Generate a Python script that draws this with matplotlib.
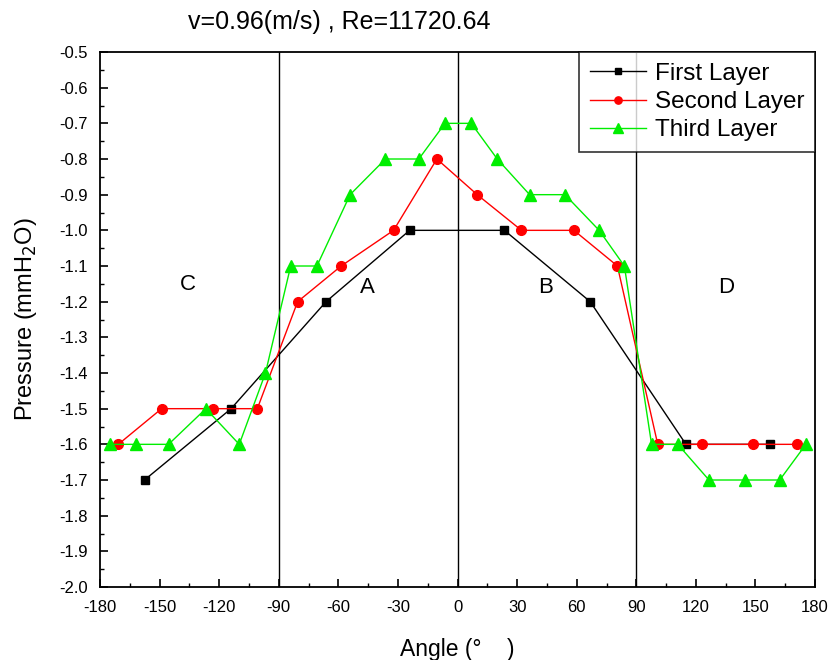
import matplotlib
matplotlib.use("Agg")
import matplotlib.pyplot as plt
from matplotlib.ticker import MultipleLocator, FormatStrFormatter

plt.rcParams['font.family'] = ['Liberation Sans', 'DejaVu Sans']
plt.rcParams['axes.unicode_minus'] = False

first_x = [-157.6, -114.0, -66.2, -24.1, 23.6, 66.8, 115.0, 157.1]
first_y = [-1.7, -1.5, -1.2, -1.0, -1.0, -1.2, -1.6, -1.6]

second_x = [-170.8, -149.0, -123.1, -100.8, -80.5, -58.6, -32.2, -10.4,
            9.9, 32.2, 58.6, 80.5, 100.8, 123.1, 149.0, 170.8]
second_y = [-1.6, -1.5, -1.5, -1.5, -1.2, -1.1, -1.0, -0.8,
            -0.9, -1.0, -1.0, -1.1, -1.6, -1.6, -1.6, -1.6]

third_x = [-174.9, -161.7, -145.5, -126.7, -109.9, -96.7, -84.0, -70.8,
           -54.1, -36.3, -19.5, -6.3, 6.9, 20.0, 36.3, 54.1,
           71.3, 84.0, 97.7, 110.9, 126.6, 144.9, 162.2, 175.4]
third_y = [-1.6, -1.6, -1.6, -1.5, -1.6, -1.4, -1.1, -1.1,
           -0.9, -0.8, -0.8, -0.7, -0.7, -0.8, -0.9, -0.9,
           -1.0, -1.1, -1.6, -1.6, -1.7, -1.7, -1.7, -1.6]

region_labels = ['C', 'A', 'B', 'D']
region_x = [-135.6, -45.4, 44.4, 135.3]
region_y = [-1.153, -1.16, -1.16, -1.16]
divider_x = [-90, 0, 90]

fig = plt.figure(figsize=(8.3, 6.6), dpi=100)
ax = fig.add_axes([0.1205, 0.1106, 0.8615, 0.8106])

for xv in divider_x:
    ax.axvline(xv, color='black', lw=1.0, zorder=1)

ax.plot(first_x, first_y, color='black', lw=1.0, marker='s', markersize=6,
        label='First Layer', zorder=3)
ax.plot(second_x, second_y, color='red', lw=1.0, marker='o', markersize=7,
        label='Second Layer', zorder=3)
ax.plot(third_x, third_y, color='#00ee00', lw=1.0, marker='^', markersize=9,
        label='Third Layer', zorder=3)

for t, xv, yv in zip(region_labels, region_x, region_y):
    ax.text(xv, yv, t, fontsize=16, ha='center', va='center')

ax.set_xlim(-180, 180)
ax.set_ylim(-2.0, -0.5)
ax.xaxis.set_major_locator(MultipleLocator(30))
ax.xaxis.set_minor_locator(MultipleLocator(15))
ax.yaxis.set_major_locator(MultipleLocator(0.1))
ax.yaxis.set_minor_locator(MultipleLocator(0.05))
ax.yaxis.set_major_formatter(FormatStrFormatter('%.1f'))
ax.tick_params(which='both', direction='in', labelsize=12)
ax.tick_params(axis='x', which='major', pad=9)
ax.tick_params(axis='y', which='major', pad=9)
ax.tick_params(which='major', length=6, width=1.2)
ax.tick_params(which='minor', length=3, width=1.0)
for s in ax.spines.values():
    s.set_linewidth(1.3)

ax.set_xlabel('Angle (°    )', fontsize=16.5, labelpad=17)
ax.set_ylabel('Pressure (mmH$_2$O)', fontsize=17, labelpad=14)
fig.text(0.409, 0.967, 'v=0.96(m/s) , Re=11720.64', fontsize=18, ha='center', va='center')

leg = ax.legend(loc='upper right', fontsize=17.5, frameon=True, fancybox=False,
                edgecolor='black', borderaxespad=0, handlelength=2.3,
                markerscale=0.75, borderpad=0.45, labelspacing=0.25,
                handletextpad=0.35)
leg.get_frame().set_linewidth(1.2)

fig.savefig('out.png', dpi=100)
